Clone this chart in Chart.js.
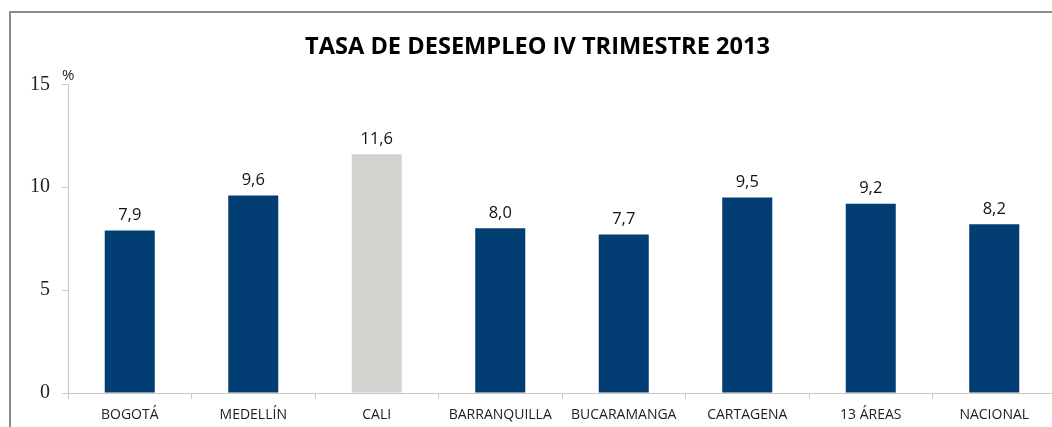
<!DOCTYPE html>
<html>
<head>
<meta charset="utf-8">
<script src="https://cdn.jsdelivr.net/npm/chart.js@4.4.1/dist/chart.umd.min.js"></script>
<style>
  html, body { margin: 0; padding: 0; background: #fff; overflow: hidden; }
  #wrap { width: 1056px; height: 427px; position: relative; }
</style>
</head>
<body>
<div id="wrap"><canvas id="chart"></canvas></div>
<script>
// --- DATA ---
const categories = ['BOGOTÁ', 'MEDELLÍN', 'CALI', 'BARRANQUILLA', 'BUCARAMANGA', 'CARTAGENA', '13 ÁREAS', 'NACIONAL'];
const rates = [7.9, 9.6, 11.6, 8.0, 7.7, 9.5, 9.2, 8.2];
const yTicks = [0, 5, 10, 15];
const highlight = 'CALI';

const BLUE = '#023d73';
const GRAY = '#d4d3cf';
const fmt = (v) => v.toFixed(1).replace('.', ',');

// frame, "%" unit and value labels
const decorations = {
    id: 'decorations',
    afterDraw(chart) {
        const { ctx, chartArea } = chart;
        ctx.save();
        ctx.strokeStyle = '#8c8c8c';
        ctx.lineWidth = 2;
        ctx.beginPath();
        ctx.moveTo(10, 440);
        ctx.lineTo(10, 12);
        ctx.lineTo(1070, 12);
        ctx.stroke();

        ctx.fillStyle = '#222';
        ctx.font = '15px "Open Sans", sans-serif';
        ctx.textAlign = 'left';
        ctx.textBaseline = 'bottom';
        ctx.fillText('%', chartArea.left - 6, chartArea.top - 1);

        const meta = chart.getDatasetMeta(0);
        ctx.font = '16.5px "Open Sans", sans-serif';
        ctx.textAlign = 'center';
        ctx.textBaseline = 'bottom';
        ctx.fillStyle = '#111';
        meta.data.forEach((bar, i) => {
            ctx.fillText(fmt(rates[i]), bar.x, bar.y - 7);
        });
        ctx.restore();
    }
};

new Chart(document.getElementById('chart'), {
    type: 'bar',
    data: {
        labels: categories,
        datasets: [{
            data: rates,
            backgroundColor: categories.map(c => c === highlight ? GRAY : BLUE),
            borderWidth: 0,
            categoryPercentage: 1,
            barPercentage: 0.405,
        }]
    },
    options: {
        responsive: true,
        maintainAspectRatio: false,
        animation: false,
        layout: { padding: { left: 19, right: 0, top: 0, bottom: 0 } },
        plugins: {
            legend: { display: false },
            tooltip: { enabled: false },
            title: {
                display: true,
                text: 'TASA DE DESEMPLEO IV TRIMESTRE 2013',
                color: '#000',
                font: { family: '"Open Sans", sans-serif', size: 23.6, weight: 'bold' },
                padding: { top: 33, bottom: 23 }
            }
        },
        scales: {
            x: {
                grid: { drawOnChartArea: false, tickLength: 6, color: '#c8c8c8', offset: true },
                border: { color: '#c8c8c8' },
                ticks: {
                    color: '#222',
                    font: { family: '"Open Sans", sans-serif', size: 14 },
                    padding: 8,
                    maxRotation: 0,
                    autoSkip: false
                },
                afterFit: (scale) => { scale.height = 34; }
            },
            y: {
                min: 0,
                max: 15,
                afterBuildTicks: (scale) => { scale.ticks = yTicks.map(v => ({ value: v })); },
                grid: { drawOnChartArea: false, tickLength: 6, color: '#c8c8c8' },
                border: { color: '#c8c8c8' },
                ticks: {
                    color: '#222',
                    font: { family: '"Liberation Serif", serif', size: 20 },
                    padding: 12
                },
                afterFit: (scale) => { scale.width = 49; }
            }
        }
    },
    plugins: [decorations]
});
</script>
</body>
</html>
